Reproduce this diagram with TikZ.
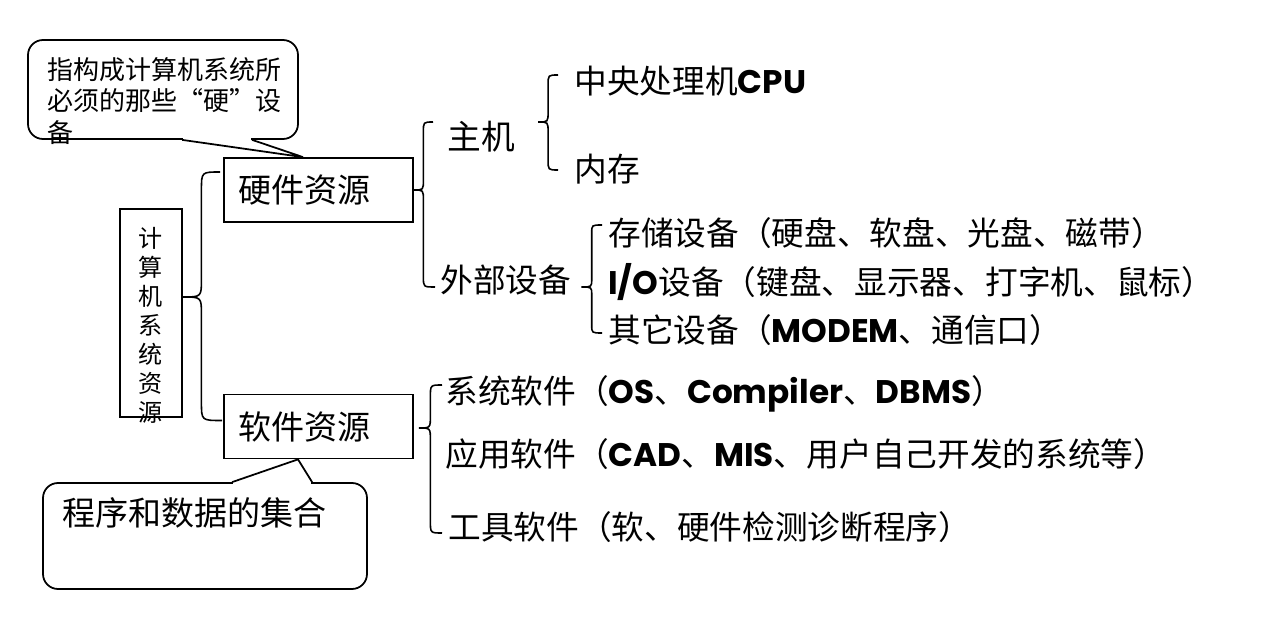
\documentclass[tikz,border=0pt]{standalone}
\usepackage{fontspec}
\setmainfont{Noto Sans CJK SC}
\newfontfamily\enf{Poppins}
\usetikzlibrary{calc}

\newcommand\en[1]{{\enf\bfseries #1}}
% curly brace: tip, top end, bottom end, curl
\newcommand\brc[4]{%
  \coordinate (bT) at #1;
  \coordinate (bA) at #2;
  \coordinate (bB) at #3;
  \coordinate (bV) at ($(bT)!0.5!(bA)$);
  \draw[brace] (bA) .. controls (bV |- bA) .. ($(bV |- bA)+(0,#4)$)
    -- ($(bV |- bT)+(0,-#4)$) .. controls (bV |- bT) .. (bT)
    .. controls (bV |- bT) .. ($(bV |- bT)+(0,#4)$)
    -- ($(bV |- bB)+(0,-#4)$) .. controls (bV |- bB) .. (bB);
}

\tikzset{
  lbl/.style={anchor=west, inner sep=0pt, text height=0.95em, text depth=0.05em,
    font=\fontsize{18.6}{22}\selectfont},
  resbox/.style={draw, line width=1pt, anchor=west, inner xsep=3mm, inner ysep=0pt,
    minimum height=12.8mm, text width=31.8mm, align=left,
    font=\fontsize{18.8}{22}\selectfont},
  note/.style={draw, line width=1pt, rounded corners=3mm},
  brace/.style={line width=0.9pt}
}

\begin{document}
\begin{tikzpicture}[x=0.2mm, y=-0.2mm]
  \path[fill=white, use as bounding box] (0,0) rectangle (1271,635);

  % left side
  \node[draw, line width=1pt, minimum width=12.4mm, minimum height=41.6mm] (sys) at (151,313) {};
  \node[align=center, inner sep=0pt, font=\fontsize{13.7}{16.5}\selectfont] (systxt) at (151,325)
    {计\\算\\机\\系\\统\\资\\源};

  \node[resbox] (hw) at (223,190) {硬件资源};
  \node[resbox] (sw) at (223,426.5) {软件资源};

  % callouts
  \node[note, minimum width=54mm, minimum height=19.8mm] (n1) at (163,89.5) {};
  \node[anchor=west, align=left, inner sep=0pt, font=\fontsize{14.8}{17.8}\selectfont] (n1txt) at (47,101)
    {指构成计算机系统所\\必须的那些“硬”设\\备};
  \coordinate (t1) at ($(hw.north west)+(80,0)$);
  \coordinate (b1) at ($(n1.south west)+(155,0)$);
  \coordinate (b2) at ($(n1.south west)+(225,0)$);
  \fill[white] ($(b1)+(1,-3)$) rectangle ($(b2)+(-1,3)$);
  \draw[line width=1pt] (b1) -- (t1) -- (b2);

  \node[note, minimum width=64.8mm, minimum height=21.2mm] (n2) at (205,536) {};
  \node[lbl, font=\fontsize{18.8}{22}\selectfont] (n2txt) at (62,518) {程序和数据的集合};
  \coordinate (t2) at ($(sw.south west)+(75,0)$);
  \coordinate (b3) at ($(n2.north west)+(190,0)$);
  \coordinate (b4) at ($(n2.north west)+(270,0)$);
  \fill[white] ($(b3)+(1,-3)$) rectangle ($(b4)+(-1,3)$);
  \draw[line width=1pt] (b3) -- (t2) -- (b4);

  % hardware
  \node[lbl, font=\fontsize{19.2}{22}\selectfont] (zj) at (447,142) {主机};
  \node[lbl] (wb) at (440,285) {外部设备};
  \node[lbl] (cpu) at (574,86) {中央处理机\en{CPU}};
  \node[lbl] (nc) at (574,174) {内存};
  \node[lbl] (cc) at (608,238) {存储设备（硬盘、软盘、光盘、磁带）};
  \node[lbl] (io) at (608,287) {\en{I/O}设备（键盘、显示器、打字机、鼠标）};
  \node[lbl] (qt) at (608,335) {其它设备（\en{MODEM}、通信口）};

  % software
  \node[lbl] (xt) at (445,396) {系统软件（\en{OS}、\en{Compiler}、\en{DBMS}）};
  \node[lbl] (yy) at (445,459) {应用软件（\en{CAD}、\en{MIS}、用户自己开发的系统等）};
  \node[lbl] (gj) at (448,532) {工具软件（软、硬件检测诊断程序）};

  % braces
  \brc{($(sys.east)+(0,-16)$)}{($(hw.west)+(-3,-18)$)}{($(sw.west)+(-1,-6)$)}{18}
  \brc{(hw.east)}{($(zj.west)+(-14,-20)$)}{($(wb.west)+(-5,2)$)}{10}
  \brc{($(zj.east)+(23,-20)$)}{($(cpu.west)+(-16,-11)$)}{($(nc.west)+(-16,-4)$)}{10}
  \brc{($(wb.east)+(10,2)$)}{($(cc.west)+(-6,-13)$)}{($(qt.west)+(-6,-2)$)}{8}
  \brc{($(sw.east)+(5,1.5)$)}{($(xt.west)+(-3,-11)$)}{($(gj.west)+(-6,1)$)}{12}
\end{tikzpicture}
\end{document}
